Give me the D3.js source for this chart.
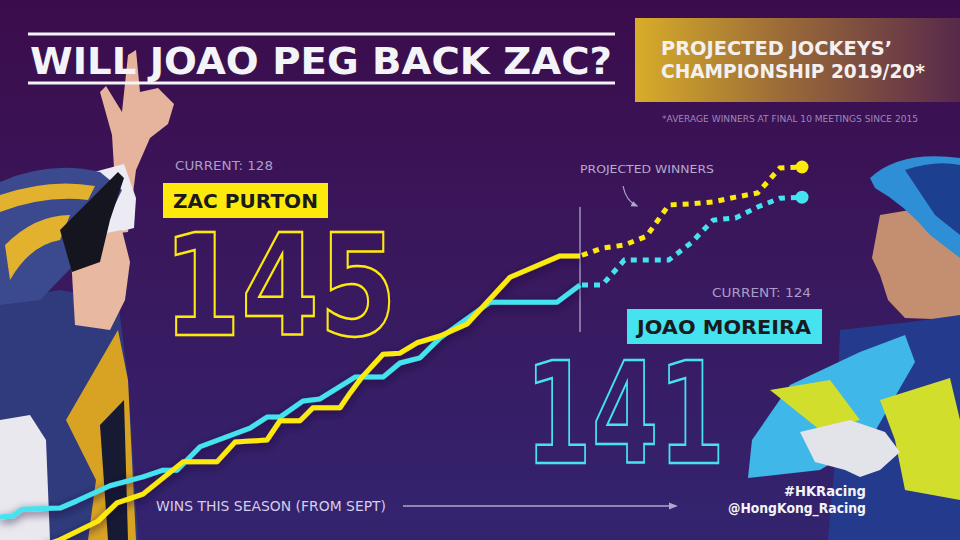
<!DOCTYPE html>
<html>
<head>
<meta charset="utf-8">
<script src="https://cdn.jsdelivr.net/npm/d3@7"></script>
<style>
  body { margin: 0; background: #36185e; }
  svg { display: block; font-family: "DejaVu Sans", sans-serif; }
</style>
</head>
<body>
<div id="chart"></div>
<script>
// values (meeting number, cumulative wins)
var jockeys = ["ZAC PURTON", "JOAO MOREIRA"];
var currentWins = [128, 124];
var projectedWins = [145, 141];

// season so far
var zacMeetings = [4.5, 6, 9.8, 11.7, 14.3, 18.3, 21.7, 23.5, 26.7, 28, 30, 31.3, 34, 35, 36.2, 38.3, 40, 41.7, 44, 46.7, 51, 56, 58];
var zacWins = [72.3, 73.3, 76.9, 80.4, 82.1, 88.3, 88.3, 92.1, 92.5, 96.2, 96.2, 98.7, 98.7, 101.5, 104.6, 109, 109.2, 111.2, 112.5, 114.8, 123.8, 127.9, 127.9];

var joaoMeetings = [0, 1.3, 2.2, 6, 7.7, 11, 14.3, 16.3, 17.7, 20, 25, 26.7, 28, 30.3, 32, 35.5, 38.3, 40, 42, 44, 49, 55.7, 58];
var joaoWins = [77.7, 77.9, 79.2, 79.4, 80.8, 83.7, 85.4, 86.7, 86.7, 91.2, 94.8, 96.9, 96.9, 100, 100.4, 104.6, 104.6, 107.3, 108.3, 112.1, 119, 119, 122.3];

// final 10 meetings (projection)
var projMeetings = [58, 59, 60, 61, 62, 63, 64, 65, 66, 67, 68];
var zacProj = [127.9, 129.4, 130, 131.7, 137.7, 137.9, 138.3, 139.2, 140, 144.8, 145];
var joaoProj = [122.3, 122.3, 127.1, 127.1, 127.1, 130.4, 134.8, 135.2, 137.3, 139, 139.2];

var W = 960, H = 540;
var yellow = "#fdea0c", cyan = "#45e2ef";

var svg = d3.select("#chart").append("svg")
    .attr("width", W)
    .attr("height", H);

var defs = svg.append("defs");

var bg = defs.append("linearGradient").attr("id", "bg")
    .attr("x1", 0).attr("y1", 0).attr("x2", 0).attr("y2", 1);
bg.append("stop").attr("offset", "0%").attr("stop-color", "#3b0c4b");
bg.append("stop").attr("offset", "45%").attr("stop-color", "#3a175c");
bg.append("stop").attr("offset", "100%").attr("stop-color", "#33246f");

var gold = defs.append("linearGradient").attr("id", "gold")
    .attr("x1", 0).attr("y1", 0).attr("x2", 1).attr("y2", 0);
gold.append("stop").attr("offset", "0%").attr("stop-color", "#d8ad29");
gold.append("stop").attr("offset", "45%").attr("stop-color", "#9b6b38");
gold.append("stop").attr("offset", "100%").attr("stop-color", "#58294b");

var shadow = defs.append("filter").attr("id", "shadow")
    .attr("x", "-10%").attr("y", "-10%").attr("width", "120%").attr("height", "130%");
shadow.append("feDropShadow")
    .attr("dx", 0).attr("dy", 3).attr("stdDeviation", 4)
    .attr("flood-color", "#1a0830").attr("flood-opacity", 0.7);

defs.append("marker").attr("id", "head")
    .attr("viewBox", "0 0 10 10").attr("refX", 8).attr("refY", 5)
    .attr("markerWidth", 6).attr("markerHeight", 6).attr("orient", "auto")
    .append("path").attr("d", "M0,1 L10,5 L0,9 Z").attr("fill", "#b2a6cc");

svg.append("rect").attr("width", W).attr("height", H).attr("fill", "url(#bg)");

// rough stand-ins for the two jockey photos
var zac = svg.append("g");
zac.append("path").attr("fill", "#e6b49c")  // raised arm + hand
    .attr("d", "M102,235 L114,168 L112,135 L100,92 L106,86 L122,112 L128,55 L136,50 L140,92 L158,88 L174,104 L168,124 L150,138 L136,170 L128,232 Z");
zac.append("path").attr("fill", "#eceaf2")
    .attr("d", "M94,172 L124,164 L136,198 L134,228 L102,236 Z");
zac.append("path").attr("fill", "#2f3b7c")  // jacket
    .attr("d", "M0,300 L60,290 L118,300 L128,380 L138,540 L0,540 Z");
zac.append("path").attr("fill", "#e9e8ef")
    .attr("d", "M0,420 L30,415 L46,440 L50,540 L0,540 Z");
zac.append("path").attr("fill", "#d8a323")
    .attr("d", "M66,420 L118,330 L128,380 L136,540 L88,540 L96,480 Z");
zac.append("path").attr("fill", "#161a33")
    .attr("d", "M100,425 L124,400 L128,540 L108,540 Z");
zac.append("path").attr("fill", "#e8b8a0")  // face
    .attr("d", "M70,240 L122,230 L130,262 L125,300 L110,330 L75,325 Z");
zac.append("path").attr("fill", "#3b4a8e")  // helmet
    .attr("d", "M0,182 Q50,160 100,172 L122,190 L98,240 L40,300 L0,305 Z");
zac.append("path").attr("fill", "#e2b22e")
    .attr("d", "M0,195 Q50,178 95,186 L88,200 Q45,195 0,212 Z M5,245 Q35,215 70,215 L60,240 Q30,245 10,280 Z");
zac.append("path").attr("fill", "#15151f")
    .attr("d", "M60,230 L118,172 L124,178 L110,220 L100,262 L72,272 Z");

var joao = svg.append("g");
joao.append("path").attr("fill", "#c48f70")  // face
    .attr("d", "M880,215 L940,205 L960,210 L960,320 L905,318 L888,300 L880,275 L872,258 Z");
joao.append("path").attr("fill", "#2e8fd6")  // helmet
    .attr("d", "M870,178 Q900,150 960,158 L960,258 L930,235 Q905,205 875,188 Z");
joao.append("path").attr("fill", "#1d3f8f")
    .attr("d", "M905,170 Q935,160 960,165 L960,235 L935,215 Z");
joao.append("path").attr("fill", "#243a8c")  // jacket
    .attr("d", "M840,330 L910,322 L960,315 L960,540 L828,540 L835,460 Z");
joao.append("path").attr("fill", "#3fb7e8")  // sleeve
    .attr("d", "M748,478 L752,440 L790,385 L860,352 L905,335 L915,362 L870,440 L820,470 Z");
joao.append("path").attr("fill", "#d2de2c")
    .attr("d", "M770,390 L830,380 L860,420 L820,430 Z M880,400 L950,378 L960,420 L960,500 L905,490 L895,440 Z");
joao.append("path").attr("fill", "#e3e3ea")  // glove
    .attr("d", "M800,432 L850,420 L885,432 L900,452 L880,470 L860,477 L845,470 L815,462 Z");

// scales
var x = d3.scaleLinear().domain([0, 58, 68]).range([0, 580, 802]);
var y = d3.scaleLinear().domain([70, 145]).range([557, 167]);

var line = d3.line()
    .x(function(d) { return x(d[0]); })
    .y(function(d) { return y(d[1]); });

var zacPts = d3.zip(zacMeetings, zacWins);
var joaoPts = d3.zip(joaoMeetings, joaoWins);
var zacProjPts = d3.zip(projMeetings, zacProj);
var joaoProjPts = d3.zip(projMeetings, joaoProj);

// title
svg.append("line").attr("x1", 28).attr("x2", 615).attr("y1", 34).attr("y2", 34)
    .attr("stroke", "#f2f4f8").attr("stroke-width", 3);
svg.append("line").attr("x1", 28).attr("x2", 615).attr("y1", 83).attr("y2", 83)
    .attr("stroke", "#f2f4f8").attr("stroke-width", 3);
svg.append("text").attr("x", 30).attr("y", 74)
    .attr("font-size", 37).attr("font-weight", "bold").attr("fill", "#f2f4f8")
    .attr("textLength", 582).attr("lengthAdjust", "spacingAndGlyphs")
    .text("WILL JOAO PEG BACK ZAC?");

// projected championship box
svg.append("rect").attr("x", 635).attr("y", 18).attr("width", 325).attr("height", 84)
    .attr("fill", "url(#gold)");
svg.append("text").attr("x", 661).attr("y", 55)
    .attr("font-size", 19).attr("font-weight", "bold").attr("fill", "#f4f0f0")
    .attr("textLength", 231).attr("lengthAdjust", "spacingAndGlyphs")
    .text("PROJECTED JOCKEYS\u2019");
svg.append("text").attr("x", 661).attr("y", 78)
    .attr("font-size", 19).attr("font-weight", "bold").attr("fill", "#f4f0f0")
    .attr("textLength", 264).attr("lengthAdjust", "spacingAndGlyphs")
    .text("CHAMPIONSHIP 2019/20*");
svg.append("text").attr("x", 662).attr("y", 122)
    .attr("font-size", 8.5).attr("fill", "#9c88ba")
    .attr("textLength", 256).attr("lengthAdjust", "spacingAndGlyphs")
    .text("*AVERAGE WINNERS AT FINAL 10 MEETINGS SINCE 2015");

// jockey labels and big projected totals
var labels = [
  {cx: 175, cy: 170, cw: 98, bx: 163, by: 183, bw: 165, bh: 35, tx: 173, ty: 208, tw: 145,
   nx: 163, ny: 335, nw: 234, col: yellow},
  {cx: 712, cy: 297, cw: 99, bx: 627, by: 309, bw: 195, bh: 35, tx: 637, ty: 334, tw: 174,
   nx: 525, ny: 463, nw: 200, col: cyan}
];
labels.forEach(function(l, i) {
  svg.append("text").attr("x", l.cx).attr("y", l.cy)
      .attr("font-size", 12.5).attr("fill", "#aa9ec6")
      .attr("textLength", l.cw).attr("lengthAdjust", "spacingAndGlyphs")
      .text("CURRENT: " + currentWins[i]);
  svg.append("rect").attr("x", l.bx).attr("y", l.by).attr("width", l.bw).attr("height", l.bh)
      .attr("fill", l.col);
  svg.append("text").attr("x", l.tx).attr("y", l.ty)
      .attr("font-size", 19).attr("font-weight", "bold").attr("fill", "#1b1a1e")
      .attr("textLength", l.tw).attr("lengthAdjust", "spacingAndGlyphs")
      .text(jockeys[i]);
  svg.append("text").attr("x", l.nx).attr("y", l.ny)
      .attr("font-size", 140).attr("font-weight", "bold")
      .attr("fill", "none").attr("stroke", l.col).attr("stroke-width", 2.5)
      .attr("stroke-linejoin", "miter")
      .attr("textLength", l.nw).attr("lengthAdjust", "spacingAndGlyphs")
      .text(projectedWins[i]);
});

// "now" divider
svg.append("line").attr("x1", x(58)).attr("x2", x(58)).attr("y1", 207).attr("y2", 332)
    .attr("stroke", "#a193bd").attr("stroke-width", 1.5);

// season lines
var lines = svg.append("g").attr("filter", "url(#shadow)");
lines.append("path").datum(joaoPts).attr("d", line)
    .attr("fill", "none").attr("stroke", cyan).attr("stroke-width", 5)
    .attr("stroke-linejoin", "round");
lines.append("path").datum(zacPts).attr("d", line)
    .attr("fill", "none").attr("stroke", yellow).attr("stroke-width", 5)
    .attr("stroke-linejoin", "round");

// projections
[[joaoProjPts, cyan], [zacProjPts, yellow]].forEach(function(p) {
  svg.append("path").datum(p[0]).attr("d", line)
      .attr("fill", "none").attr("stroke", p[1]).attr("stroke-width", 5)
      .attr("stroke-dasharray", "6,6").attr("stroke-dashoffset", -2);
  var last = p[0][p[0].length - 1];
  svg.append("circle").attr("cx", x(last[0])).attr("cy", y(last[1])).attr("r", 6.5)
      .attr("fill", p[1]);
});

// annotation
svg.append("text").attr("x", 580).attr("y", 173)
    .attr("font-size", 11).attr("fill", "#b6aacd")
    .attr("textLength", 134).attr("lengthAdjust", "spacingAndGlyphs")
    .text("PROJECTED WINNERS");
svg.append("path").attr("d", "M623,186 Q626,201 637,206")
    .attr("fill", "none").attr("stroke", "#b2a6cc").attr("stroke-width", 1.2)
    .attr("marker-end", "url(#head)");

// x axis caption
svg.append("text").attr("x", 156).attr("y", 511)
    .attr("font-size", 14.5).attr("fill", "#d6cdea")
    .attr("textLength", 230).attr("lengthAdjust", "spacingAndGlyphs")
    .text("WINS THIS SEASON (FROM SEPT)");
svg.append("line").attr("x1", 403).attr("x2", 676).attr("y1", 506).attr("y2", 506)
    .attr("stroke", "#b2a6cc").attr("stroke-width", 1.5)
    .attr("marker-end", "url(#head)");

// social tags
svg.append("text").attr("x", 866).attr("y", 496).attr("text-anchor", "end")
    .attr("font-size", 13.5).attr("font-weight", "bold").attr("fill", "#f4f4f8")
    .attr("textLength", 82).attr("lengthAdjust", "spacingAndGlyphs")
    .text("#HKRacing");
svg.append("text").attr("x", 866).attr("y", 513).attr("text-anchor", "end")
    .attr("font-size", 13.5).attr("font-weight", "bold").attr("fill", "#f4f4f8")
    .attr("textLength", 138).attr("lengthAdjust", "spacingAndGlyphs")
    .text("@HongKong_Racing");
</script>
</body>
</html>
